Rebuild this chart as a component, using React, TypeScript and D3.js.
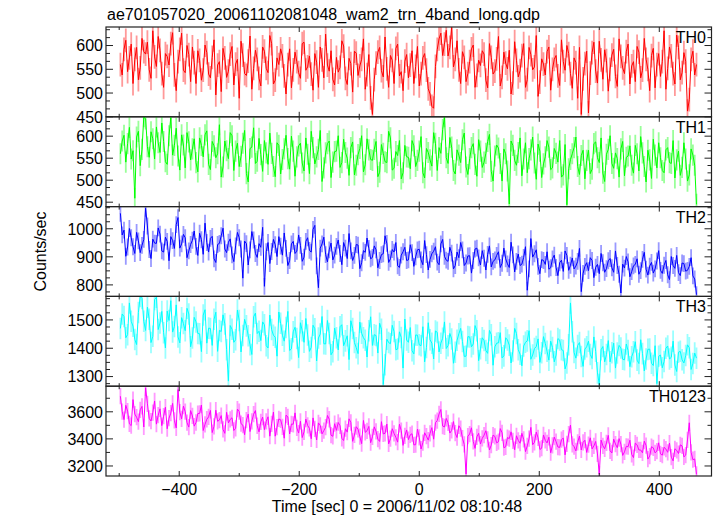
import React from 'react';
import * as d3 from 'd3';

const TITLE = 'ae701057020_20061102081048_wam2_trn_4band_long.qdp';
const X_LABEL = 'Time [sec] 0 = 2006/11/02 08:10:48';
const Y_LABEL = 'Counts/sec';
const BIN_START = -498;
const BIN_SIZE = 3;

// even bins (t = -498, -492, ...) and odd bins (t = -495, -489, ...)
const th0a = [
  560, 592, 545, 603, 571, 528, 615, 582, 549, 631,
  556, 590, 512, 577, 604, 538, 566, 626, 543, 581,
  597, 520, 569, 548, 585, 532, 612, 559, 503, 574,
  546, 598, 561, 489, 580, 537, 620, 552, 571, 515,
  588, 543, 604, 527, 560, 578, 498, 593, 549, 566,
  531, 607, 555, 540, 583, 512, 570, 624, 546, 529,
  575, 554, 599, 518, 562, 588, 537, 571, 508, 581,
  455, 563, 596, 534, 551, 579, 520, 603, 545, 567,
  532, 589, 556, 515, 574, 548, 498, 468, 592, 626,
  603, 578, 638, 571, 549, 587, 524, 566, 601, 537,
  558, 582, 511, 575, 546, 619, 533, 563, 590, 521,
  569, 547, 604, 528, 581, 555, 493, 572, 538, 597,
  550, 579, 516, 566, 600, 541, 574, 489, 455, 562,
  458, 585, 546, 609, 529, 568, 550, 592, 514, 577,
  541, 603, 557, 524, 586, 548, 571, 505, 594, 560,
  535, 631, 552, 578, 519, 596, 543, 567, 486, 588,
  560,
];
const th0b = [
  538, 611, 574, 520, 596, 553, 587, 607, 531, 576,
  619, 541, 583, 559, 627, 505, 592, 548, 600, 524,
  564, 589, 527, 601, 540, 575, 496, 566, 594, 533,
  582, 517, 571, 609, 541, 567, 508, 590, 531, 597,
  552, 621, 519, 574, 593, 536, 560, 511, 586, 543,
  604, 548, 578, 506, 565, 597, 532, 559, 589, 517,
  544, 610, 531, 573, 502, 584, 557, 614, 539, 490,
  528, 586, 547, 618, 512, 569, 594, 536, 505, 581,
  559, 520, 598, 541, 583, 509, 472, 556, 614, 579,
  632, 596, 555, 610, 520, 575, 541, 593, 512, 569,
  589, 527, 604, 540, 572, 515, 586, 551, 498, 608,
  534, 579, 512, 596, 549, 621, 523, 561, 587, 506,
  571, 536, 612, 548, 583, 510, 564, 596, 530, 588,
  542, 607, 521, 570, 591, 504, 580, 535, 614, 553,
  587, 519, 566, 598, 532, 615, 550, 579, 511, 583,
  566, 508, 597, 541, 622, 528, 585, 462, 571, 538,
];

const th1a = [
  560, 602, 583, 548, 459, 611, 570, 639, 552, 594,
  621, 563, 588, 536, 642, 579, 555, 603, 528, 587,
  571, 540, 596, 553, 612, 524, 578, 560, 507, 589,
  549, 601, 566, 531, 584, 515, 572, 619, 543, 558,
  590, 536, 561, 508, 579, 547, 602, 525, 566, 553,
  584, 521, 559, 611, 537, 570, 497, 562, 589, 541,
  566, 529, 593, 550, 574, 512, 558, 601, 535, 569,
  545, 588, 518, 561, 540, 596, 527, 556, 503, 579,
  552, 590, 531, 566, 517, 572, 546, 608, 522, 561,
  644, 538, 575, 514, 557, 592, 530, 549, 583, 509,
  566, 541, 588, 520, 555, 573, 498, 560, 446, 579,
  534, 596, 548, 517, 569, 539, 582, 506, 553, 575,
  528, 561, 590, 512, 444, 547, 574, 531, 556, 503,
  568, 525, 587, 540, 516, 559, 601, 527, 549, 571,
  510, 555, 534, 579, 521, 562, 496, 546, 593, 528,
  551, 517, 574, 538, 505, 566, 529, 548, 512, 557,
  445,
];
const th1b = [
  589, 541, 620, 567, 598, 533, 644, 576, 610, 548,
  585, 630, 542, 601, 557, 618, 523, 580, 608, 546,
  594, 519, 579, 603, 536, 588, 551, 626, 530, 567,
  608, 522, 584, 554, 613, 496, 575, 538, 595, 520,
  562, 607, 531, 585, 514, 571, 549, 600, 509, 578,
  539, 596, 515, 574, 553, 613, 528, 583, 506, 565,
  601, 540, 563, 511, 587, 534, 572, 519, 594, 547,
  570, 508, 581, 542, 611, 523, 565, 590, 517, 553,
  526, 578, 545, 599, 505, 563, 532, 584, 574, 615,
  551, 597, 522, 569, 540, 607, 513, 574, 536, 592,
  529, 561, 604, 498, 580, 538, 571, 521, 589, 545,
  563, 510, 585, 549, 598, 502, 566, 537, 590, 524,
  572, 541, 507, 581, 526, 560, 598, 513, 568, 545,
  515, 583, 551, 596, 497, 570, 538, 562, 507, 588,
  552, 578, 516, 560, 599, 531, 568, 504, 557, 585,
  522, 569, 540, 590, 546, 511, 585, 498, 571, 534,
];

const th2a = [
  1055, 995, 935, 968, 912, 957, 941, 1073, 926, 963,
  948, 981, 917, 955, 972, 930, 1040, 946, 968, 921,
  959, 937, 984, 909, 951, 966, 893, 944, 975, 928,
  952, 907, 939, 968, 824, 947, 925, 960, 898, 934,
  795, 951, 919, 943, 972, 906, 930, 887, 955, 920,
  941, 899, 968, 917, 1012, 790, 946, 908, 925, 889,
  937, 912, 951, 894, 921, 905, 942, 879, 916, 930,
  898, 925, 887, 911, 948, 893, 917, 868, 906, 934,
  889, 915, 900, 927, 872, 908, 891, 920, 881, 946,
  902, 884, 913, 869, 897, 925, 878, 904, 887, 931,
  871, 895, 909, 864, 889, 918, 877, 893, 862, 907,
  884, 869, 898, 781, 965, 911, 866, 890, 873, 856,
  893, 862, 879, 848, 905, 870, 857, 884, 776, 866,
  851, 887, 863, 840, 879, 858, 894, 845, 869, 771,
  860, 882, 847, 873, 838, 891, 856, 867, 842, 885,
  852, 870, 836, 901, 859, 844, 878, 849, 866, 832,
  765,
];
const th2b = [
  978, 902, 1001, 936, 987, 915, 962, 1010, 894, 949,
  1003, 921, 970, 886, 958, 1015, 931, 980, 897, 944,
  992, 905, 961, 1020, 917, 973, 880, 948, 1002, 915,
  964, 883, 987, 928, 956, 871, 990, 912, 947, 1005,
  918, 876, 962, 901, 938, 985, 869, 946, 912, 978,
  884, 955, 923, 998, 868, 931, 970, 882, 949, 906,
  960, 872, 931, 983, 887, 944, 858, 922, 967, 893,
  939, 861, 908, 975, 880, 926, 951, 862, 918, 887,
  943, 866, 925, 889, 958, 853, 911, 936, 872, 962,
  888, 934, 857, 917, 951, 869, 903, 842, 928, 896,
  922, 853, 939, 884, 905, 862, 931, 875, 952, 846,
  910, 874, 936, 857, 899, 925, 840, 887, 918, 861,
  906, 833, 888, 921, 852, 896, 867, 930, 841, 879,
  897, 826, 873, 912, 845, 886, 861, 921, 838, 874,
  901, 829, 868, 893, 851, 916, 835, 880, 857, 922,
  841, 887, 819, 869, 905, 833, 876, 852, 897, 821,
];

const th3a = [
  1470, 1512, 1448, 1495, 1431, 1526, 1576, 1463, 1502, 1442,
  1580, 1489, 1455, 1531, 1568, 1477, 1440, 1508, 1462, 1521,
  1436, 1493, 1451, 1517, 1418, 1470, 1502, 1389, 1459, 1486,
  1284, 1467, 1430, 1498, 1445, 1479, 1412, 1511, 1452, 1427,
  1483, 1401, 1466, 1439, 1528, 1446, 1473, 1392, 1458, 1434,
  1490, 1421, 1447, 1403, 1469, 1436, 1512, 1415, 1452, 1388,
  1437, 1476, 1409, 1444, 1497, 1420, 1381, 1453, 1428, 1462,
  1410, 1445, 1488, 1272, 1432, 1416, 1459, 1397, 1438, 1503,
  1421, 1391, 1447, 1412, 1476, 1403, 1430, 1362, 1456, 1418,
  1493, 1409, 1433, 1386, 1451, 1424, 1372, 1440, 1415, 1462,
  1398, 1427, 1382, 1448, 1405, 1419, 1366, 1437, 1411, 1390,
  1452, 1379, 1408, 1426, 1361, 1399, 1433, 1384, 1417, 1358,
  1403, 1376, 1429, 1392, 1348, 1560, 1385, 1410, 1371, 1397,
  1425, 1364, 1389, 1272, 1406, 1378, 1352, 1418, 1383, 1401,
  1359, 1392, 1370, 1423, 1346, 1381, 1362, 1397, 1339, 1275,
  1376, 1353, 1408, 1368, 1341, 1386, 1359, 1374, 1402, 1346,
  1365,
];
const th3b = [
  1521, 1437, 1560, 1478, 1413, 1583, 1495, 1545, 1420, 1572,
  1466, 1530, 1401, 1498, 1457, 1553, 1419, 1487, 1541, 1405,
  1509, 1452, 1388, 1536, 1471, 1410, 1527, 1463, 1518, 1395,
  1480, 1421, 1535, 1387, 1502, 1444, 1378, 1524, 1460, 1493,
  1409, 1517, 1446, 1372, 1488, 1425, 1530, 1398, 1474, 1367,
  1462, 1505, 1389, 1481, 1355, 1450, 1416, 1498, 1377, 1471,
  1394, 1483, 1426, 1360, 1470, 1402, 1492, 1437, 1369, 1511,
  1448, 1383, 1467, 1342, 1420, 1481, 1395, 1458, 1330, 1429,
  1473, 1380, 1446, 1409, 1352, 1490, 1418, 1461, 1387, 1435,
  1399, 1452, 1347, 1428, 1470, 1371, 1441, 1405, 1480, 1356,
  1437, 1392, 1463, 1340, 1418, 1455, 1373, 1429, 1348, 1470,
  1395, 1338, 1421, 1462, 1376, 1406, 1350, 1441, 1389, 1425,
  1352, 1434, 1395, 1327, 1412, 1458, 1365, 1420, 1336, 1405,
  1378, 1440, 1313, 1395, 1352, 1427, 1384, 1330, 1410, 1361,
  1415, 1335, 1388, 1358, 1430, 1320, 1396, 1347, 1409, 1372,
  1331, 1400, 1362, 1425, 1318, 1389, 1348, 1412, 1325, 1383,
];

const th0123a = [
  3715, 3542, 3605, 3498, 3583, 3527, 3640, 3777, 3551, 3594,
  3509, 3622, 3568, 3475, 3590, 3536, 3764, 3548, 3601, 3487,
  3569, 3521, 3588, 3462, 3545, 3610, 3493, 3530, 3572, 3441,
  3518, 3556, 3478, 3601, 3502, 3539, 3454, 3582, 3497, 3526,
  3468, 3563, 3511, 3420, 3547, 3489, 3575, 3436, 3508, 3481,
  3530, 3452, 3499, 3401, 3474, 3518, 3437, 3486, 3545, 3419,
  3463, 3497, 3388, 3450, 3521, 3429, 3471, 3365, 3448, 3492,
  3415, 3456, 3381, 3437, 3509, 3402, 3440, 3376, 3461, 3423,
  3395, 3438, 3357, 3412, 3372, 3420, 3441, 3398, 3535, 3617,
  3488, 3519, 3463, 3442, 3497, 3405, 3140, 3436, 3381, 3415,
  3362, 3427, 3396, 3354, 3418, 3379, 3445, 3341, 3402, 3386,
  3423, 3368, 3397, 3348, 3485, 3375, 3408, 3331, 3389, 3412,
  3352, 3380, 3337, 3406, 3364, 3502, 3343, 3375, 3318, 3390,
  3357, 3326, 3381, 3140, 3349, 3370, 3312, 3398, 3335, 3361,
  3304, 3342, 3286, 3369, 3318, 3297, 3351, 3273, 3334, 3310,
  3289, 3338, 3301, 3265, 3327, 3292, 3348, 3280, 3519, 3246,
  3138,
];
const th0123b = [
  3602, 3648, 3511, 3690, 3560, 3615, 3488, 3659, 3532, 3680,
  3575, 3498, 3634, 3553, 3662, 3481, 3598, 3642, 3520, 3609,
  3494, 3587, 3650, 3508, 3563, 3447, 3612, 3539, 3470, 3596,
  3544, 3462, 3620, 3512, 3431, 3583, 3530, 3609, 3452, 3561,
  3529, 3420, 3598, 3487, 3541, 3405, 3563, 3510, 3592, 3443,
  3410, 3546, 3478, 3555, 3392, 3500, 3461, 3573, 3427, 3512,
  3521, 3404, 3475, 3548, 3382, 3490, 3417, 3536, 3460, 3372,
  3489, 3398, 3527, 3441, 3363, 3475, 3412, 3508, 3352, 3466,
  3430, 3356, 3472, 3325, 3445, 3391, 3483, 3520, 3584, 3495,
  3551, 3443, 3528, 3410, 3476, 3359, 3420, 3482, 3330, 3441,
  3404, 3460, 3318, 3428, 3371, 3476, 3335, 3410, 3452, 3320,
  3389, 3441, 3306, 3402, 3357, 3450, 3322, 3429, 3370, 3298,
  3413, 3340, 3394, 3282, 3436, 3359, 3311, 3421, 3374, 3300,
  3408, 3348, 3289, 3391, 3327, 3426, 3296, 3362, 3402, 3278,
  3345, 3390, 3262, 3356, 3318, 3383, 3251, 3342, 3297, 3371,
  3280, 3325, 3369, 3238, 3315, 3356, 3267, 3392, 3301, 3252,
];

const seriesNames = ['TH0', 'TH1', 'TH2', 'TH3', 'TH0123'];
const seriesEven = [th0a, th1a, th2a, th3a, th0123a];
const seriesOdd = [th0b, th1b, th2b, th3b, th0123b];
const seriesErrors = [25, 24, 30, 38, 60];
const yDomains: [number, number][] = [[450, 639], [440, 644], [759, 1079], [1266, 1583], [3126, 3789]];
const yMajorTicks = [[450, 500, 550, 600], [450, 500, 550, 600], [800, 900, 1000], [1300, 1400, 1500], [3200, 3400, 3600]];
const yMinorSteps = [50 / 3, 50 / 3, 25, 25, 100];
const xMajorTicks = [-400, -200, 0, 200, 400];
const colors = ['#ff0000', '#00ff00', '#0000ff', '#00ffff', '#ff00ff'];

const W = 717, H = 516;
const LEFT = 106, RIGHT = 711.5, TOP = 27, BOTTOM = 476;
const FONT = '"Liberation Sans", Arial, Helvetica, sans-serif';
const FRAME = '#222';

function interleave(a: number[], b: number[]): number[] {
  const out: number[] = [];
  a.forEach((v, i) => {
    out.push(v);
    if (i < b.length) out.push(b[i]);
  });
  return out;
}

export default function App() {
  const x = d3.scaleLinear().domain([-522, 487]).range([LEFT, RIGHT]);
  const panelH = (BOTTOM - TOP) / seriesNames.length;
  const xMinor = d3.range(-500, 487, 100);
  const fmt = (v: number) => (v < 0 ? '\u2212' + Math.abs(v) : String(v));
  const barW = Math.abs(x(BIN_SIZE) - x(0));

  return (
    <svg width={W} height={H} style={{ position: 'absolute', left: 0, top: 0, background: '#fff' }}
      fontFamily={FONT}>
      <rect x={0} y={0} width={W} height={H} fill="#fff" />
      <defs>
        {seriesNames.map((n, k) => (
          <clipPath id={'clip' + k} key={n}>
            <rect x={LEFT} y={TOP + k * panelH} width={RIGHT - LEFT} height={panelH} />
          </clipPath>
        ))}
      </defs>
      <text x={107} y={19.5} fontSize={16} fill="#000">{TITLE}</text>
      {seriesNames.map((name, k) => {
        const y0 = TOP + k * panelH;
        const y1 = y0 + panelH;
        const vals = interleave(seriesEven[k], seriesOdd[k]);
        const err = seriesErrors[k];
        const dom = yDomains[k];
        const y = d3.scaleLinear().domain(dom).range([y1, y0]);
        const times = vals.map((_, i) => BIN_START + BIN_SIZE * i);
        const line = d3.line<number>().x((_, i) => x(times[i])).y((d) => y(d));
        const step = yMinorSteps[k];
        const minors: number[] = [];
        const startV = Math.ceil((dom[0] - 0.01) / step) * step;
        for (let v = startV; v <= dom[1] + 0.01; v += step) minors.push(v);
        return (
          <g key={name}>
            <g clipPath={`url(#clip${k})`}>
              {vals.map((v, i) => (
                <line key={i} x1={x(times[i])} x2={x(times[i])} y1={y(v - err)} y2={y(v + err)}
                  stroke={colors[k]} strokeOpacity={0.4} strokeWidth={barW} />
              ))}
              <path d={line(vals) || ''} fill="none" stroke={colors[k]} strokeWidth={1} />
            </g>
            {xMinor.map((t) => {
              const major = xMajorTicks.includes(t);
              const len = major ? 5 : 3;
              return (
                <g key={'xt' + t}>
                  <line x1={x(t)} x2={x(t)} y1={y1} y2={y1 - len} stroke={FRAME} strokeWidth={1} />
                  <line x1={x(t)} x2={x(t)} y1={y0} y2={y0 + len} stroke={FRAME} strokeWidth={1} />
                </g>
              );
            })}
            {minors.map((v) => {
              const major = yMajorTicks[k].some((m) => Math.abs(m - v) < 0.01);
              const len = major ? 7 : 4;
              return (
                <g key={'yt' + v}>
                  <line x1={LEFT} x2={LEFT + len} y1={y(v)} y2={y(v)} stroke={FRAME} strokeWidth={1} />
                  <line x1={RIGHT} x2={RIGHT - len} y1={y(v)} y2={y(v)} stroke={FRAME} strokeWidth={1} />
                </g>
              );
            })}
            {yMajorTicks[k].map((v) => (
              <text key={'yl' + v} x={103} y={y(v)} dy="0.36em" textAnchor="end" fontSize={16} fill="#000">{v}</text>
            ))}
            <text x={706} y={y0 + 16} textAnchor="end" fontSize={16} fill="#000">{name}</text>
            <rect x={LEFT} y={y0} width={RIGHT - LEFT} height={panelH} fill="none" stroke={FRAME} strokeWidth={1.2} />
          </g>
        );
      })}
      {xMajorTicks.map((t) => (
        <text key={'xl' + t} x={x(t)} y={495} textAnchor="middle" fontSize={16} fill="#000">{fmt(t)}</text>
      ))}
      <text x={397} y={512} textAnchor="middle" fontSize={16} fill="#000">{X_LABEL}</text>
      <text transform={`translate(46,${(TOP + BOTTOM) / 2}) rotate(-90)`} textAnchor="middle" fontSize={16} fill="#000">{Y_LABEL}</text>
    </svg>
  );
}
